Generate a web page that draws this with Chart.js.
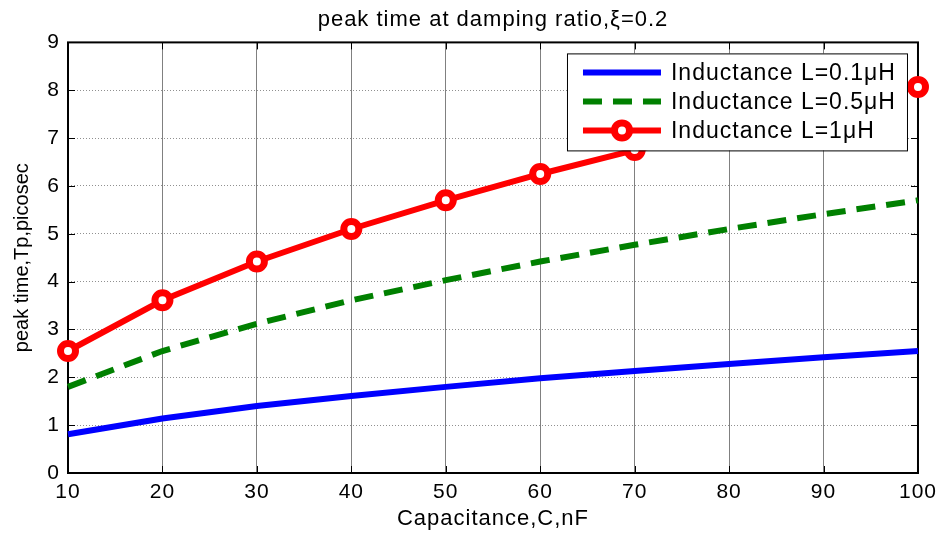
<!DOCTYPE html>
<html>
<head>
<meta charset="utf-8">
<script src="https://cdn.jsdelivr.net/npm/chart.js@4.4.1/dist/chart.umd.min.js"></script>
<style>
  html, body { margin: 0; padding: 0; background: #fff; }
  #wrap { width: 944px; height: 533px; }
</style>
</head>
<body>
<div id="wrap"><canvas id="c" width="944" height="533"></canvas></div>
<script>
// Capacitance values (nF) along the x axis
const capacitance = [10, 20, 30, 40, 50, 60, 70, 80, 90, 100];

// Peak time Tp (picosec) for each inductance
const tpL01 = [0.81, 1.14, 1.40, 1.61, 1.80, 1.98, 2.13, 2.28, 2.42, 2.55];
const tpL05 = [1.80, 2.55, 3.12, 3.61, 4.03, 4.42, 4.77, 5.10, 5.41, 5.70];
const tpL1  = [2.55, 3.61, 4.42, 5.10, 5.70, 6.25, 6.75, 7.22, 7.65, 8.07];

const seriesLabels = ['Inductance L=0.1\u03BCH', 'Inductance L=0.5\u03BCH', 'Inductance L=1\u03BCH'];

const xTickValues = [10, 20, 30, 40, 50, 60, 70, 80, 90, 100];
const yTickValues = [0, 1, 2, 3, 4, 5, 6, 7, 8, 9];

const chartTitle = 'peak time at damping ratio,\u03BE=0.2';
const xTitle = 'Capacitance,C,nF';
const yTitle = 'peak time,Tp,picosec';

const FONT = "'Liberation Sans', Arial, Helvetica, sans-serif";
const SPACING = '1px';

Chart.defaults.font.family = FONT;
Chart.defaults.color = '#000';

const toPoints = (vals) => capacitance.map((c, i) => ({ x: c, y: vals[i] }));

// slightly open lettering for horizontal text; the rotated y title stays tight
const spacingPlugin = {
  id: 'spacing',
  beforeUpdate(chart) { chart.ctx.letterSpacing = SPACING; },
  beforeLayout(chart) { chart.ctx.letterSpacing = SPACING; },
  afterLayout(chart) {
    const y = chart.scales.y;
    if (!y._tightTitle) {
      const orig = y.drawTitle.bind(y);
      y.drawTitle = function () {
        const prev = chart.ctx.letterSpacing;
        chart.ctx.letterSpacing = '0px';
        orig();
        chart.ctx.letterSpacing = prev;
      };
      y._tightTitle = true;
    }
  },
  beforeDraw(chart) { chart.ctx.letterSpacing = SPACING; }
};

// axes box with inward tick marks on all four sides
const framePlugin = {
  id: 'frame',
  beforeDatasetsDraw(chart) {
    const { ctx, chartArea: a, scales } = chart;
    const len = 7;
    ctx.save();
    ctx.strokeStyle = '#000';
    ctx.lineWidth = 1;
    ctx.beginPath();
    xTickValues.forEach(v => {
      const px = Math.round(scales.x.getPixelForValue(v)) + 0.5;
      ctx.moveTo(px, a.bottom); ctx.lineTo(px, a.bottom - len);
      ctx.moveTo(px, a.top); ctx.lineTo(px, a.top + len);
    });
    yTickValues.forEach(v => {
      const py = Math.round(scales.y.getPixelForValue(v)) + 0.5;
      ctx.moveTo(a.left, py); ctx.lineTo(a.left + len, py);
      ctx.moveTo(a.right, py); ctx.lineTo(a.right - len, py);
    });
    ctx.stroke();
    ctx.lineWidth = 2;
    ctx.strokeRect(a.left, a.top, a.right - a.left, a.bottom - a.top);
    ctx.restore();
  }
};

// boxed legend inside the upper right of the plot
const boxLegendPlugin = {
  id: 'boxLegend',
  afterDraw(chart) {
    const { ctx, chartArea: a } = chart;
    const w = 340, h = 97;
    const left = a.right - 11 - w;
    const top = a.top + 11;
    ctx.save();
    ctx.letterSpacing = SPACING;
    ctx.fillStyle = '#fff';
    ctx.fillRect(left, top, w, h);
    ctx.strokeStyle = '#000';
    ctx.lineWidth = 1;
    ctx.strokeRect(left + 0.5, top + 0.5, w, h);
    chart.data.datasets.forEach((ds, i) => {
      const y = top + 19 + i * 29;
      const x0 = left + 16, x1 = left + 94;
      ctx.save();
      ctx.strokeStyle = ds.borderColor;
      ctx.lineWidth = ds.borderWidth;
      ctx.lineCap = 'butt';
      ctx.setLineDash(ds.borderDash || []);
      ctx.beginPath();
      ctx.moveTo(x0, y); ctx.lineTo(x1, y);
      ctx.stroke();
      ctx.restore();
      if (ds.pointRadius > 0) {
        ctx.save();
        ctx.beginPath();
        ctx.arc((x0 + x1) / 2, y, ds.pointRadius, 0, Math.PI * 2);
        ctx.fillStyle = ds.pointBackgroundColor;
        ctx.fill();
        ctx.lineWidth = ds.pointBorderWidth;
        ctx.strokeStyle = ds.pointBorderColor;
        ctx.stroke();
        ctx.restore();
      }
      ctx.fillStyle = '#000';
      ctx.font = '23px ' + FONT;
      ctx.textAlign = 'left';
      ctx.textBaseline = 'middle';
      ctx.fillText(ds.label, left + 104, y + 1);
    });
    ctx.restore();
  }
};

new Chart(document.getElementById('c'), {
  type: 'line',
  data: {
    datasets: [
      {
        label: seriesLabels[0],
        data: toPoints(tpL01),
        borderColor: '#0000ff',
        borderWidth: 6,
        pointRadius: 0,
        fill: false,
        clip: false
      },
      {
        label: seriesLabels[1],
        data: toPoints(tpL05),
        borderColor: '#008000',
        borderWidth: 6,
        borderDash: [19, 11],
        pointRadius: 0,
        fill: false,
        clip: false
      },
      {
        label: seriesLabels[2],
        data: toPoints(tpL1),
        borderColor: '#ff0000',
        borderWidth: 6,
        pointRadius: 7.5,
        pointBorderWidth: 7,
        pointBackgroundColor: '#ffffff',
        pointBorderColor: '#ff0000',
        fill: false,
        clip: false
      }
    ]
  },
  options: {
    responsive: false,
    devicePixelRatio: 1,
    animation: false,
    events: [],
    layout: { padding: { top: 0, right: 25, bottom: 0, left: 0 } },
    plugins: {
      legend: { display: false },
      tooltip: { enabled: false },
      title: {
        display: true,
        fullSize: false,
        text: chartTitle,
        color: '#000',
        font: { size: 22, weight: 'normal' },
        padding: { top: 7, bottom: 9 }
      }
    },
    scales: {
      x: {
        type: 'linear',
        min: 10,
        max: 100,
        afterBuildTicks(scale) { scale.ticks = xTickValues.map(v => ({ value: v })); },
        ticks: { color: '#000', font: { size: 21 }, padding: 7, maxRotation: 0, autoSkip: false },
        grid: { color: '#808080', lineWidth: 1, drawTicks: false },
        border: { display: false },
        title: {
          display: true,
          text: xTitle,
          color: '#000',
          font: { size: 22 },
          padding: { top: 0, bottom: 1 }
        },
        afterFit(scale) { scale.height = 60; }
      },
      y: {
        type: 'linear',
        min: 0,
        max: 9,
        afterBuildTicks(scale) { scale.ticks = yTickValues.map(v => ({ value: v })); },
        ticks: { color: '#000', font: { size: 21 }, padding: 8 },
        grid: { color: '#909090', lineWidth: 1, drawTicks: false },
        border: { display: false, dash: [1, 2] },
        title: {
          display: true,
          text: yTitle,
          color: '#000',
          font: { size: 20 },
          padding: { top: 10, bottom: 0 }
        },
        afterFit(scale) { scale.width = 68; }
      }
    }
  },
  plugins: [spacingPlugin, framePlugin, boxLegendPlugin]
});
</script>
</body>
</html>
